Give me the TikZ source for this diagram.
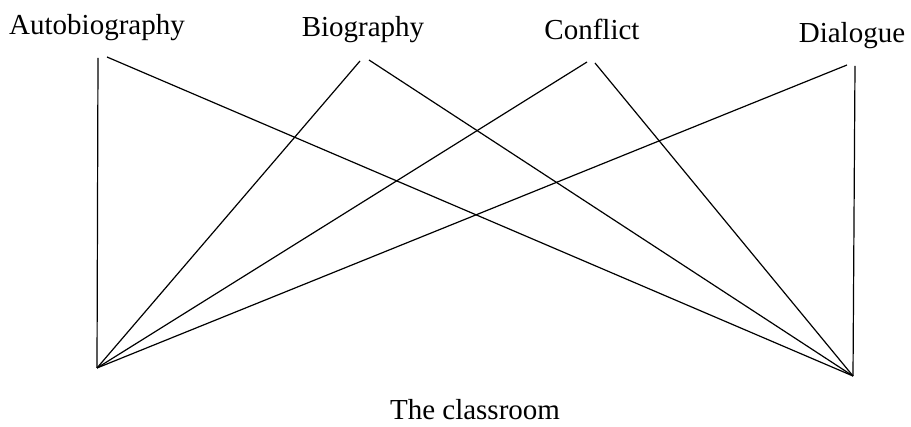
\documentclass[tikz,border=0pt]{standalone}
\usepackage{fontspec}
\setmainfont{Liberation Serif}
\begin{document}
\begin{tikzpicture}[x=1pt,y=-1pt,
  lbl/.style={anchor=base,inner sep=0pt,font=\fontsize{29}{34}\selectfont},
  link/.style={line width=1.2pt,black}]
\useasboundingbox (0,0) rectangle (911,427);
\node[lbl] (auto) at (97,35) {Autobiography};
\node[lbl] (bio) at (363,37) {Biography};
\node[lbl] (conf) at (592,40) {Conflict};
\node[lbl] (dia) at (852,43) {Dialogue};
\node[lbl] (room) at (475,420) {The classroom};
\coordinate (a1) at (98,58);
\coordinate (a2) at (107,57);
\coordinate (b1) at (360,61);
\coordinate (b2) at (369,60);
\coordinate (c1) at (587,62);
\coordinate (c2) at (595,63);
\coordinate (d1) at (847,65);
\coordinate (d2) at (855,66);
\coordinate (L) at (97,368);
\coordinate (R) at (853,376);
\draw[link] (a1) -- (L);
\draw[link] (a2) -- (R);
\draw[link] (b1) -- (L);
\draw[link] (b2) -- (R);
\draw[link] (c1) -- (L);
\draw[link] (c2) -- (R);
\draw[link] (d1) -- (L);
\draw[link] (d2) -- (R);
\end{tikzpicture}
\end{document}
